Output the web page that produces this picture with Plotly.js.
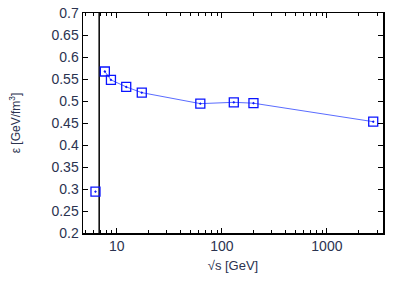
<!DOCTYPE html>
<html>
<head>
<meta charset="utf-8">
<script src="https://cdn.plot.ly/plotly-3.0.1.min.js"></script>
<style>html,body{margin:0;padding:0;background:#fff;}#plot{width:399px;height:286px;}</style>
</head>
<body>
<div id="plot"></div>
<script>
// isolated first point (not joined by the line)
var sqrtSLow = [6.27];
var epsilonLow = [0.294];
// connected series
var sqrtS = [7.7, 8.8, 12.3, 17.3, 62.4, 130, 200, 2760];
var epsilon = [0.567, 0.548, 0.532, 0.519, 0.494, 0.497, 0.495, 0.453];
// vertical reference line
var lineX = [6.8, 6.8];
var lineY = [0.2, 0.7];
var yTicks = [0.2, 0.25, 0.3, 0.35, 0.4, 0.45, 0.5, 0.55, 0.6, 0.65, 0.7];
var yTickLabels = ['0.2', '0.25', '0.3', '0.35', '0.4', '0.45', '0.5', '0.55', '0.6', '0.65', '0.7'];
var xTicks = [10, 100, 1000];
var xTickLabels = ['10', '100', '1000'];
var xMinorTicks = [5, 6, 7, 8, 9, 20, 30, 40, 50, 60, 70, 80, 90, 200, 300, 400, 500, 600, 700, 800, 900, 2000, 3000];

var textColor = '#2b3350';
var xRange = [Math.log10(4.77), Math.log10(3420)];
var markerStyle = {symbol: 'square-open-dot', size: 9, color: '#0a14ff', line: {width: 1.3, color: '#0a14ff'}};
var traces = [
  {
    x: lineX, y: lineY, mode: 'lines', type: 'scatter',
    line: {color: '#000000', width: 1.5}, hoverinfo: 'skip', showlegend: false
  },
  {
    x: sqrtSLow, y: epsilonLow, mode: 'markers', type: 'scatter', xaxis: 'x2', yaxis: 'y',
    marker: markerStyle, showlegend: false
  },
  {
    x: sqrtS, y: epsilon, mode: 'lines+markers', type: 'scatter',
    line: {color: '#5a6cff', width: 1},
    marker: markerStyle,
    showlegend: false
  }
];
var layout = {
  width: 399, height: 286,
  margin: {l: 83, r: 16, t: 13, b: 53},
  paper_bgcolor: '#ffffff', plot_bgcolor: '#ffffff',
  font: {family: 'Liberation Sans, Arial, sans-serif', size: 14, color: textColor},
  showlegend: false,
  xaxis: {
    type: 'log',
    range: xRange,
    tickmode: 'array', tickvals: xTicks, ticktext: xTickLabels,
    ticks: 'inside', ticklen: 5, tickwidth: 1, tickcolor: '#000',
    mirror: 'ticks', showline: true, linecolor: '#000', linewidth: 1.5,
    showgrid: false, zeroline: false,
    title: {text: '√s [GeV]', font: {size: 13, color: textColor}, standoff: 7},
    automargin: false
  },
  xaxis2: {
    type: 'log', overlaying: 'x', side: 'bottom', anchor: 'y',
    range: xRange,
    tickmode: 'array', tickvals: xMinorTicks, showticklabels: false,
    ticks: 'inside', ticklen: 3, tickwidth: 1, tickcolor: '#000',
    mirror: 'ticks', showline: false,
    showgrid: false, zeroline: false,
    automargin: false
  },
  yaxis: {
    range: [0.2, 0.7],
    tickmode: 'array', tickvals: yTicks, ticktext: yTickLabels,
    ticks: 'inside', ticklen: 5, tickwidth: 1, tickcolor: '#000',
    mirror: 'ticks', showline: true, linecolor: '#000', linewidth: 1.5,
    showgrid: false, zeroline: false,
    title: {text: 'ε [GeV/fm<sup>3</sup>]', font: {size: 12, color: textColor}, standoff: 28},
    automargin: false
  }
};
Plotly.newPlot('plot', traces, layout, {displayModeBar: false, staticPlot: true});
</script>
</body>
</html>
